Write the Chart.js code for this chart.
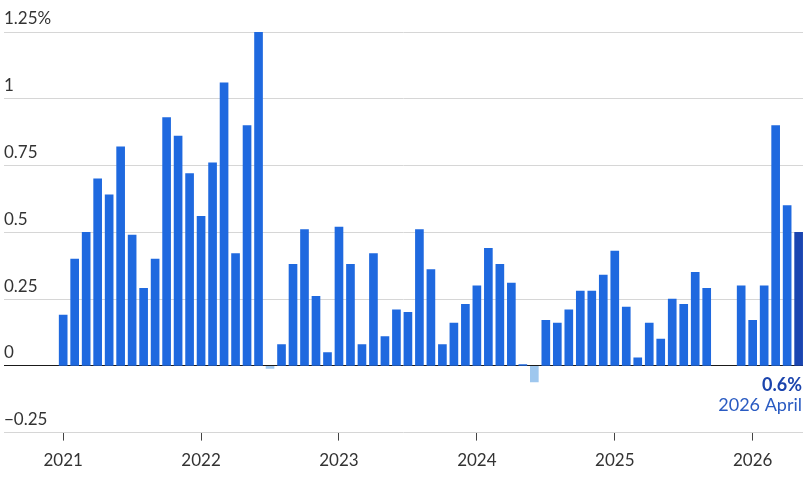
<!DOCTYPE html>
<html>
<head>
<meta charset="utf-8">
<script src="https://cdn.jsdelivr.net/npm/chart.js@4/dist/chart.umd.min.js"></script>
<style>
  html, body { margin: 0; padding: 0; background: #ffffff; }
  #wrap { width: 809px; height: 481px; position: relative; }
</style>
</head>
<body>
<div id="wrap"><canvas id="c" width="809" height="481"></canvas></div>
<script>
// Monthly categories, Jan 2021 .. May 2026
const months = [
  '2021-01','2021-02','2021-03','2021-04','2021-05','2021-06','2021-07','2021-08','2021-09','2021-10','2021-11','2021-12',
  '2022-01','2022-02','2022-03','2022-04','2022-05','2022-06','2022-07','2022-08','2022-09','2022-10','2022-11','2022-12',
  '2023-01','2023-02','2023-03','2023-04','2023-05','2023-06','2023-07','2023-08','2023-09','2023-10','2023-11','2023-12',
  '2024-01','2024-02','2024-03','2024-04','2024-05','2024-06','2024-07','2024-08','2024-09','2024-10','2024-11','2024-12',
  '2025-01','2025-02','2025-03','2025-04','2025-05','2025-06','2025-07','2025-08','2025-09','2025-10','2025-11','2025-12',
  '2026-01','2026-02','2026-03','2026-04','2026-05'
];
// Monthly change, percent (null = no data)
const values = [
  0.19, 0.40, 0.50, 0.70, 0.64, 0.82, 0.49, 0.29, 0.40, 0.93, 0.86, 0.72,
  0.56, 0.76, 1.06, 0.42, 0.90, 1.25, -0.01, 0.08, 0.38, 0.51, 0.26, 0.05,
  0.52, 0.38, 0.08, 0.42, 0.11, 0.21, 0.20, 0.51, 0.36, 0.08, 0.16, 0.23,
  0.30, 0.44, 0.38, 0.31, 0.005, -0.06, 0.17, 0.16, 0.21, 0.28, 0.28, 0.34,
  0.43, 0.22, 0.03, 0.16, 0.10, 0.25, 0.23, 0.35, 0.29, null, null, 0.30,
  0.17, 0.30, 0.90, 0.60, 0.50
];
const yearLabels = ['2021', '2022', '2023', '2024', '2025', '2026'];
const yTickValues = [-0.25, 0, 0.25, 0.5, 0.75, 1, 1.25];
const yTickLabels = ['\u22120.25', '0', '0.25', '0.5', '0.75', '1', '1.25%'];
const calloutValue = '0.6%';
const calloutLabel = '2026 April';

const FONT = 'Lato, "Open Sans", sans-serif';
const BLUE = '#1f69df';
const BLUE_DARK = '#1a45b1';
const BLUE_LIGHT = '#9ec7ee';

const points = months.map((m, i) => ({ x: i, y: values[i] }));
const lastIndex = months.length - 1;

const callout = {
  id: 'callout',
  afterDatasetsDraw(chart) {
    const { ctx, chartArea, scales } = chart;
    const y0 = scales.y.getPixelForValue(0);
    const xr = chartArea.right - 1;
    ctx.save();
    ctx.textAlign = 'right';
    ctx.textBaseline = 'middle';
    ctx.fillStyle = '#1b44ad';
    ctx.font = 'bold 18px ' + FONT;
    ctx.fillText(calloutValue, xr, y0 + 19);
    ctx.fillStyle = '#2a5bc2';
    ctx.font = '18px ' + FONT;
    ctx.fillText(calloutLabel, xr, y0 + 39);
    ctx.restore();
  }
};

new Chart(document.getElementById('c'), {
  type: 'bar',
  data: {
    datasets: [{
      data: points,
      barThickness: 8,
      backgroundColor: (c) => {
        const v = c.raw ? c.raw.y : 0;
        if (c.dataIndex === lastIndex) return BLUE_DARK;
        return v < 0 ? BLUE_LIGHT : BLUE;
      },
      borderWidth: 0
    }]
  },
  plugins: [callout],
  options: {
    responsive: false,
    animation: false,
    devicePixelRatio: 1,
    layout: { padding: { left: 4, right: 6, top: 32, bottom: 0 } },
    plugins: { legend: { display: false }, tooltip: { enabled: false } },
    scales: {
      x: {
        type: 'linear',
        offset: false,
        min: -5.15,
        max: 64.38,
        afterBuildTicks: (scale) => {
          scale.ticks = yearLabels.map((y, i) => ({ value: i * 12 }));
        },
        ticks: {
          callback: (v) => yearLabels[Math.round(v / 12)],
          color: '#333333',
          font: { family: FONT, size: 17 },
          padding: 10,
          maxRotation: 0,
          autoSkip: false
        },
        grid: { offset: false, drawOnChartArea: false, drawTicks: true, tickLength: 8, color: '#444444', lineWidth: 1 },
        border: { display: false }
      },
      y: {
        min: -0.25,
        max: 1.25,
        afterBuildTicks: (scale) => {
          scale.ticks = yTickValues.map(v => ({ value: v }));
        },
        ticks: {
          mirror: true,
          padding: 0,
          labelOffset: -13,
          color: '#333333',
          font: { family: FONT, size: 17 },
          callback: (v) => {
            const i = yTickValues.findIndex(t => Math.abs(t - v) < 1e-9);
            return i >= 0 ? yTickLabels[i] : '';
          }
        },
        grid: {
          drawTicks: false,
          color: (c) => (c.tick && c.tick.value === 0) ? '#1a1a1a' : '#d6d6d6',
          lineWidth: 1
        },
        border: { display: false }
      }
    }
  }
});
</script>
</body>
</html>
